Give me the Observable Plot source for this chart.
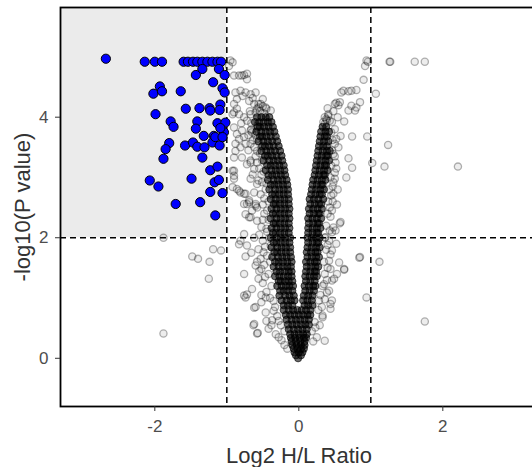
<!DOCTYPE html>
<html><head><meta charset="utf-8">
<script src="https://cdn.jsdelivr.net/npm/d3@7"></script>
<script src="https://cdn.jsdelivr.net/npm/@observablehq/plot@0.6"></script>
<style>
html,body{margin:0;padding:0;background:#fff;overflow:hidden;}
#chart{width:532px;height:467px;overflow:hidden;}
#chart svg{display:block;max-width:none !important;}
</style></head><body><div id="chart"></div>
<script>
const xTicks = [-2, 0, 2];
const yTicks = [0, 2, 4];
const foldCut = [-1, 1];
const pCut = [2];
const xDomain = [-3.31, 3.315];
const yDomain = [-0.8, 5.82];
const xTitle = "Log2 H/L Ratio";
const yTitle = "-log10(P value)";

// significant down-regulated proteins (blue)
const bluePts = [
[-2.68,4.97],[-2.14,4.92],[-2.00,4.92],[-1.90,4.92],
[-1.60,4.92],[-1.54,4.92],[-1.47,4.92],[-1.41,4.92],[-1.34,4.92],[-1.27,4.92],[-1.20,4.92],[-1.13,4.92],[-1.08,4.92],
[-1.34,4.80],[-1.11,4.80],[-1.43,4.70],[-1.03,4.70],[-1.19,4.58],
[-1.93,4.51],[-2.02,4.39],[-1.90,4.43],[-1.64,4.43],[-1.06,4.48],[-1.03,4.41],
[-1.99,4.05],[-1.57,4.14],[-1.38,4.15],[-1.24,4.15],[-1.09,4.21],[-1.23,4.11],[-1.10,4.12],
[-1.78,3.93],[-1.74,3.84],[-1.41,3.93],[-1.13,3.90],[-1.02,3.91],
[-1.43,3.81],[-1.32,3.69],[-1.18,3.69],[-1.04,3.75],[-1.09,3.82],
[-1.80,3.57],[-1.85,3.47],[-1.88,3.31],
[-1.58,3.53],[-1.47,3.58],[-1.41,3.51],[-1.31,3.50],[-1.20,3.58],[-1.10,3.53],[-1.16,3.67],[-1.06,3.67],
[-1.34,3.33],[-1.23,3.12],[-1.13,3.18],[-2.07,2.95],[-1.95,2.85],[-1.49,2.98],[-1.17,2.92],[-1.11,2.96],
[-1.23,2.76],[-1.06,2.74],[-1.71,2.56],[-1.37,2.59],[-1.16,2.37]
];

// sparse grey proteins
const greyPts = [
[-1.88,0.41],[-1.88,2.0],[-1.48,1.69],[-1.40,1.65],[-1.19,1.81],[-1.08,1.79],[-1.24,1.60],[-1.25,1.32],
[-0.83,1.89],[-0.74,1.69],[-0.76,1.40],[-0.76,1.04],[-0.72,1.06],[-0.62,0.84],[-0.63,0.55],[-0.57,0.42],
[-0.74,2.39],[-0.69,2.34],[-0.58,2.50],[-0.69,2.59],[-0.58,2.28],[-0.76,2.06],[-0.60,1.54],[-0.56,1.32],
[-0.65,1.15],[-0.74,1.01],[-0.60,0.85],[-0.46,1.01],[-0.62,0.57],[-0.58,0.41],[-0.42,0.49],[-0.32,0.40],
[-0.28,0.35],[-0.16,0.16],[-0.37,0.63],[-0.46,0.76],[-0.35,0.79],[-0.56,1.81],[-0.49,1.76],[-0.39,1.87],
[-0.81,1.95],[-0.72,1.87],[-0.72,3.22],[-0.67,3.28],[-0.62,3.14],[-0.76,2.56],[-0.69,2.62],[-0.60,2.53],
[-0.67,2.34],[-0.81,2.75],[-0.74,2.73],[-0.90,3.33],[-0.92,3.11],[-0.90,3.03],[-0.92,2.84],[-0.86,2.81],
[-0.95,4.94],[-0.97,4.85],[-0.92,4.91],[-0.83,4.69],[-0.76,4.70],[-0.72,4.63],[-0.90,4.69],[-0.79,4.69],[-0.72,4.72],
[-0.88,4.41],[-0.81,4.44],[-0.74,4.41],[-0.67,4.38],[-0.60,4.41],[-0.86,4.30],[-0.90,4.08],[-0.90,3.83],
[-0.69,4.27],[-0.56,4.22],[-0.46,4.16],[-0.39,4.11],[-0.72,3.94],[-0.79,3.78],[-0.83,3.64],[-0.65,3.75],
[-0.58,3.86],[-0.88,3.56],[-0.74,3.56],[-0.67,3.25],[-0.79,3.33],[-0.88,3.44],[-0.58,3.44],[-0.51,3.28],
[-0.90,3.11],[-0.90,2.98],[-0.83,2.78],[-0.72,2.56],[-0.60,2.56],[-0.76,2.73],[-0.58,2.89],[-0.67,2.98],[-0.51,2.92],
[-0.90,4.22],[-0.86,4.14],[-0.92,4.05],[-0.76,4.00],[-0.67,4.05],[-0.58,4.14],[-0.53,4.22],
[-0.86,3.72],[-0.76,3.67],[-0.67,3.78],[-0.81,3.50],[-0.67,3.56],[-0.58,3.64],
[-0.45,1.10],[-0.50,1.25],[-0.42,1.40],[-0.48,1.55],[-0.44,1.70],[-0.50,1.95],[-0.45,2.15],[-0.50,2.30],
[-0.44,2.45],[-0.48,2.65],[-0.46,2.80],[-0.52,3.05],[-0.55,3.15],[-0.60,3.35],[-0.62,3.50],[-0.66,3.90],
[-0.68,4.10],[-0.35,0.95],[-0.38,1.20],[-0.40,1.60],[-0.41,2.00],[-0.42,2.30],[-0.42,2.60],[-0.45,2.90],
[-0.30,0.70],[-0.25,0.55],[-0.20,0.45],
[-0.52,1.05],[-0.55,1.45],[-0.47,1.35],[-0.53,1.65],[-0.47,1.85],[-0.55,2.05],[-0.48,2.40],[-0.53,2.72],
[-0.50,2.55],[-0.44,2.10],[-0.56,2.95],[-0.49,3.10],[-0.58,3.25],[-0.54,3.40],[-0.64,3.62],[-0.60,3.70],
[-0.66,3.80],[-0.70,3.70],[-0.62,4.22],[-0.50,4.30],[-0.64,4.32],[-0.78,4.35],[-0.83,4.05],[-0.80,3.90],
[-0.70,3.45],[-0.64,3.05],[-0.62,2.75],[-0.65,2.45],[-0.52,2.18],[-0.62,2.00],[-0.66,1.75],[-0.58,1.60],
[-0.52,1.48],[-0.40,1.00],[-0.33,0.85],[-0.28,0.62],[-0.38,0.55],[-0.24,0.30],[-0.20,0.22],[-0.52,0.93],[-0.45,0.62],
[-0.60,4.08],[-0.54,4.10],[-0.48,4.06],[-0.56,4.16],[-0.50,4.18],[-0.45,4.14],
[0.84,1.67],[0.85,1.68],[1.12,1.60],[0.94,1.01],[1.75,0.61],[0.63,1.47],[0.36,0.29],
[1.26,4.92],[1.27,4.92],[1.61,4.92],[1.75,4.92],[0.94,4.94],[0.92,4.85],[0.96,4.92],[0.90,4.62],[1.07,4.39],
[1.24,3.54],[1.19,3.18],[2.21,3.18],[1.02,3.24],[0.95,3.68],[0.74,3.68],[0.69,3.32],[0.74,3.16],[0.66,3.00],
[0.62,4.44],[0.69,4.43],[0.73,4.44],[0.80,4.45],[0.59,4.41],[0.85,4.25],[0.80,4.16],[0.73,4.19],[0.69,4.11],
[0.78,4.11],[0.50,4.22],[0.57,4.25],[0.52,4.24],[0.55,4.20],[0.63,3.93],[0.41,4.05],[0.38,3.97],[0.43,3.94],[0.36,3.89],
[0.58,3.69],[0.52,3.64],[0.50,3.56],[0.55,3.50],[0.48,3.39],[0.50,3.08],[0.48,2.92],[0.48,2.73],[0.43,2.50],
[0.57,2.24],[0.48,2.17],[0.51,3.25],[0.58,2.26],[0.46,2.09],
[0.63,1.48],[0.56,1.59],[0.46,1.29],[0.39,1.09],[0.33,0.68],[0.44,0.90],[0.51,2.12],[0.46,1.79],
[0.44,1.48],[0.49,1.32],[0.42,1.12],[0.46,0.96],[0.44,0.82],[0.33,0.71],[0.23,0.51],[0.28,0.96],[0.35,1.23],[0.37,2.01],
[0.30,1.05],[0.33,1.20],[0.36,1.40],[0.35,1.60],[0.38,1.80],[0.36,2.00],[0.38,2.20],[0.40,2.40],[0.41,2.60],
[0.42,2.80],[0.44,3.00],[0.45,3.20],[0.46,3.45],[0.45,3.75],[0.27,0.80],[0.22,0.60],[0.18,0.45],[0.40,1.50],
[0.42,1.95],[0.44,2.35],[0.47,2.60],
[0.32,0.85],[0.36,0.98],[0.39,1.30],[0.42,1.62],[0.44,1.72],[0.40,1.88],[0.43,2.12],[0.46,2.45],[0.45,2.70],
[0.47,2.85],[0.50,2.98],[0.52,3.15],[0.50,3.35],[0.47,3.62],[0.50,3.80],[0.46,3.92],[0.48,4.10],[0.54,4.00],
[0.40,4.15],[0.25,0.35],[0.20,0.28],[0.29,0.55],[0.53,1.40],[0.52,1.90],[0.53,2.55],[0.54,2.80],
[0.34,3.92],[0.39,3.95],[0.36,4.00],[0.41,4.02]
];

// dense core rows: [y, x, x, ...]
const coreLeft = [
[1.04,-0.27,-0.19,-0.13,-0.07],
[1.12,-0.26,-0.21,-0.15,-0.09],
[1.20,-0.30,-0.24,-0.18,-0.13,-0.08],
[1.28,-0.28,-0.25,-0.19,-0.14,-0.09],
[1.36,-0.33,-0.27,-0.21,-0.15,-0.10],
[1.44,-0.31,-0.26,-0.20,-0.14,-0.10],
[1.52,-0.35,-0.28,-0.22,-0.16,-0.11],
[1.60,-0.33,-0.28,-0.22,-0.16,-0.10],
[1.68,-0.37,-0.29,-0.23,-0.17,-0.11],
[1.76,-0.34,-0.30,-0.24,-0.18,-0.12],
[1.84,-0.38,-0.30,-0.24,-0.18,-0.12],
[1.92,-0.35,-0.31,-0.25,-0.19,-0.13],
[2.00,-0.39,-0.31,-0.25,-0.19,-0.12],
[2.08,-0.36,-0.32,-0.26,-0.20,-0.14],
[2.16,-0.38,-0.31,-0.25,-0.19,-0.13],
[2.24,-0.35,-0.32,-0.26,-0.20,-0.14],
[2.32,-0.39,-0.31,-0.25,-0.19,-0.13],
[2.40,-0.36,-0.32,-0.26,-0.20,-0.14],
[2.48,-0.38,-0.31,-0.25,-0.19,-0.13],
[2.56,-0.35,-0.32,-0.26,-0.20,-0.14],
[2.64,-0.39,-0.32,-0.26,-0.20,-0.14],
[2.72,-0.37,-0.33,-0.27,-0.21,-0.15],
[2.80,-0.41,-0.33,-0.27,-0.21,-0.15],
[2.88,-0.39,-0.34,-0.28,-0.22,-0.16],
[2.96,-0.43,-0.35,-0.29,-0.23,-0.17],
[3.04,-0.42,-0.37,-0.31,-0.25,-0.19],
[3.12,-0.46,-0.38,-0.32,-0.26,-0.20],
[3.20,-0.44,-0.39,-0.33,-0.27,-0.21],
[3.28,-0.49,-0.41,-0.35,-0.29,-0.23],
[3.36,-0.47,-0.43,-0.37,-0.31,-0.24],
[3.44,-0.52,-0.45,-0.39,-0.33,-0.26],
[3.52,-0.51,-0.47,-0.41,-0.35,-0.28],
[3.60,-0.56,-0.49,-0.43,-0.37,-0.30],
[3.68,-0.54,-0.51,-0.45,-0.39,-0.32],
[3.76,-0.59,-0.52,-0.46,-0.40,-0.34],
[3.84,-0.57,-0.54,-0.48,-0.42,-0.36],
[3.92,-0.61,-0.55,-0.49,-0.43,-0.38],
[4.00,-0.58,-0.52,-0.46,-0.41]
];
const coreRight = [
[1.04,0.07,0.13,0.19],
[1.12,0.09,0.15,0.21],
[1.20,0.08,0.14,0.20,0.23],
[1.28,0.10,0.16,0.22],
[1.36,0.09,0.15,0.21,0.25],
[1.44,0.10,0.16,0.22,0.24],
[1.52,0.11,0.17,0.23,0.27],
[1.60,0.10,0.16,0.22,0.25],
[1.68,0.12,0.18,0.24,0.28],
[1.76,0.11,0.17,0.23,0.26],
[1.84,0.12,0.18,0.24,0.29],
[1.92,0.13,0.19,0.25,0.27],
[2.00,0.12,0.18,0.24,0.29],
[2.08,0.13,0.19,0.25,0.27],
[2.16,0.13,0.19,0.25,0.30],
[2.24,0.14,0.20,0.26,0.28],
[2.32,0.13,0.19,0.25,0.31],
[2.40,0.15,0.21,0.27,0.29],
[2.48,0.14,0.20,0.26,0.32],
[2.56,0.16,0.22,0.28,0.31],
[2.64,0.15,0.21,0.27,0.34],
[2.72,0.17,0.23,0.29,0.32],
[2.80,0.18,0.24,0.30,0.35],
[2.88,0.19,0.25,0.31,0.33],
[2.96,0.20,0.26,0.32,0.37],
[3.04,0.22,0.28,0.34,0.36],
[3.12,0.23,0.29,0.35,0.40],
[3.20,0.24,0.30,0.36,0.38],
[3.28,0.25,0.31,0.37,0.42],
[3.36,0.26,0.32,0.38,0.40],
[3.44,0.27,0.33,0.39,0.43],
[3.52,0.28,0.34,0.39],
[3.60,0.29,0.35,0.41],
[3.68,0.30,0.36,0.39],
[3.76,0.31,0.37,0.42],
[3.84,0.33,0.38]
];
const coreBottom = [
[0.00,-0.01],
[0.05,-0.04,0.03],
[0.10,-0.06,0.00,0.05],
[0.16,-0.07,-0.02,0.03,0.07],
[0.22,-0.09,-0.03,0.03,0.08],
[0.28,-0.10,-0.04,0.02,0.08],
[0.34,-0.11,-0.05,0.01,0.07,0.10],
[0.40,-0.12,-0.06,0.00,0.06,0.11],
[0.48,-0.14,-0.07,-0.01,0.05,0.11],
[0.56,-0.15,-0.09,-0.03,0.03,0.09,0.14],
[0.64,-0.17,-0.10,-0.04,0.02,0.08,0.14],
[0.72,-0.18,-0.12,-0.06,0.00,0.06,0.12,0.16],
[0.80,-0.21,-0.14,-0.08,-0.02,0.04,0.10,0.16],
[0.88,-0.21,-0.15,-0.09,0.08,0.13,0.19],
[0.96,-0.24,-0.17,-0.11,-0.06,0.06,0.12,0.18]
];

const toPts = (pairs) => pairs.map(([x, y]) => ({x, y}));
const rowsToPts = (rows) => rows.flatMap(([y, ...xs]) => xs.map((x) => ({x, y})));
const grey = toPts(greyPts);
const core = [...rowsToPts(coreBottom), ...rowsToPts(coreLeft), ...rowsToPts(coreRight)];
const blue = toPts(bluePts);
const shade = [{x1: xDomain[0], x2: foldCut[0], y1: pCut[0], y2: yDomain[1]}];

const chart = Plot.plot({
  width: 537,
  height: 467,
  marginLeft: 60,
  marginRight: 0,
  marginTop: 7,
  marginBottom: 61,
  style: {fontFamily: "'Liberation Sans', Arial, sans-serif", background: "#fff", overflow: "visible", maxWidth: "none"},
  x: {domain: xDomain},
  y: {domain: yDomain},
  marks: [
    Plot.rect(shade, {x1: "x1", x2: "x2", y1: "y1", y2: "y2", fill: "#ebebeb"}),
    Plot.dot(grey, {x: "x", y: "y", r: 3.6, fill: "#000", fillOpacity: 0.07, stroke: "#000", strokeOpacity: 0.3, strokeWidth: 1.3}),
    Plot.dot(core, {x: "x", y: "y", r: 3.6, fill: "#000", fillOpacity: 0.58, stroke: "#000", strokeOpacity: 0.6, strokeWidth: 1}),
    Plot.ruleX(foldCut, {stroke: "#000", strokeWidth: 1.5, strokeDasharray: "6,4"}),
    Plot.ruleY(pCut, {stroke: "#000", strokeWidth: 1.5, strokeDasharray: "6,4"}),
    Plot.dot(blue, {x: "x", y: "y", r: 4.6, fill: "#0000ff", stroke: "#000", strokeWidth: 1}),
    Plot.frame({stroke: "#000", strokeWidth: 1.8}),
    Plot.axisX(xTicks, {tickSize: 5, tickPadding: 8, fontSize: 17, fill: "#4d4d4d", stroke: "#333", label: null, tickFormat: (d) => String(d)}),
    Plot.axisY(yTicks, {tickSize: 5, tickPadding: 7, fontSize: 17, fill: "#4d4d4d", stroke: "#333", label: null, tickFormat: (d) => String(d)}),
    Plot.text([xTitle], {text: (d) => d, frameAnchor: "bottom", dy: 56, lineAnchor: "bottom", textAnchor: "middle", fontSize: 22, fill: "#333"}),
    Plot.text([yTitle], {text: (d) => d, frameAnchor: "left", dx: -38, rotate: -90, textAnchor: "middle", lineAnchor: "middle", fontSize: 22, fill: "#333"})
  ]
});
document.getElementById("chart").appendChild(chart);
</script>
</body></html>
